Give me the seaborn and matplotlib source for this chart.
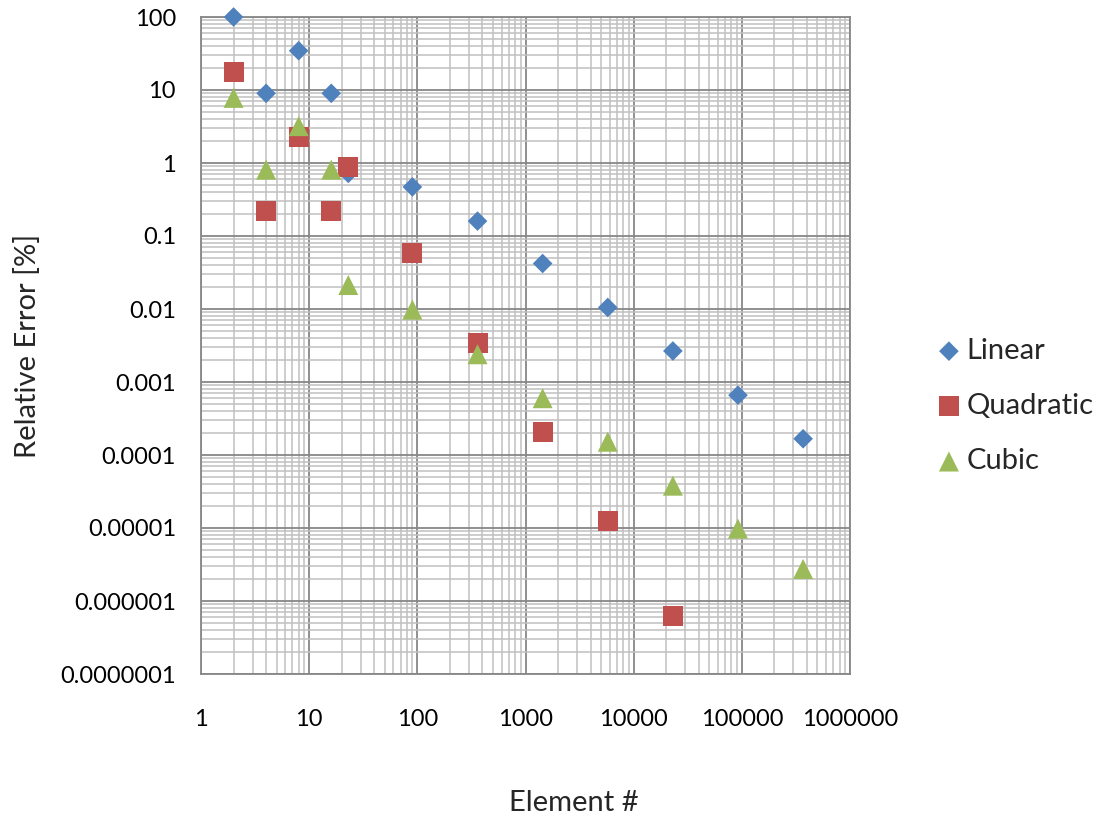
import numpy as np
import pandas as pd
import matplotlib
matplotlib.use("Agg")
import matplotlib.pyplot as plt
import seaborn as sns
from matplotlib.ticker import LogLocator, FixedLocator, FixedFormatter, NullFormatter

# Number of elements for each refinement level
elements = [2, 4, 8, 16, 23, 90, 360, 1440, 5760, 23040, 92160, 368640]

# Relative error [%] per element order
linear_err = [100, 9.0, 34.5, 9.0, 0.72, 0.47, 0.16, 0.042, 0.0105, 0.00266, 0.00066, 0.000167]
quadratic_err = [17.5, 0.218, 2.3, 0.218, 0.89, 0.059, 0.0034, 0.000206, 1.26e-5, 6.2e-7]
cubic_err = [7.8, 0.81, 3.2, 0.81, 0.0213, 0.0098, 0.0024, 0.0006, 0.000152, 3.8e-5, 9.8e-6, 2.75e-6]

x_ticks = [1, 10, 100, 1000, 10000, 100000, 1000000]
x_labels = ["1", "10", "100", "1000", "10000", "100000", "1000000"]
y_ticks = [1e-7, 1e-6, 1e-5, 1e-4, 1e-3, 1e-2, 1e-1, 1, 10, 100]
y_labels = ["0.0000001", "0.000001", "0.00001", "0.0001", "0.001", "0.01", "0.1", "1", "10", "100"]

sns.set_theme(style="white")
plt.rcParams["font.family"] = ["Lato", "DejaVu Sans"]

fig = plt.figure(figsize=(10.99, 8.16), dpi=100)
ax = fig.add_axes([201 / 1099, 1 - 674 / 816, 649 / 1099, 657 / 816])

series = [
    ("Linear", elements[:len(linear_err)], linear_err, "D", 10.0, "#4F81BD"),
    ("Quadratic", elements[:len(quadratic_err)], quadratic_err, "s", 14.4, "#C0504D"),
    ("Cubic", elements[:len(cubic_err)], cubic_err, "^", 14.4, "#9BBB59"),
]

for name, xs, ys, mk, ms, col in series:
    df = pd.DataFrame({"Element #": xs, "Relative Error": ys})
    sns.scatterplot(data=df, x="Element #", y="Relative Error", marker=mk,
                    s=ms ** 2, color=col, edgecolor="none", linewidth=0,
                    label=name, ax=ax, zorder=3, clip_on=False)

ax.set_xscale("log")
ax.set_yscale("log")
ax.set_xlim(1, 1e6)
ax.set_ylim(1e-7, 100)

ax.xaxis.set_major_locator(FixedLocator(x_ticks))
ax.xaxis.set_major_formatter(FixedFormatter(x_labels))
ax.yaxis.set_major_locator(FixedLocator(y_ticks))
ax.yaxis.set_major_formatter(FixedFormatter(y_labels))
ax.xaxis.set_minor_locator(LogLocator(base=10, subs=np.arange(2, 10), numticks=20))
ax.yaxis.set_minor_locator(LogLocator(base=10, subs=np.arange(2, 10), numticks=20))
ax.xaxis.set_minor_formatter(NullFormatter())
ax.yaxis.set_minor_formatter(NullFormatter())

ax.grid(which="major", color="#878787", linewidth=1.3, zorder=1)
ax.grid(which="minor", color="#C0C0C0", linewidth=1.1, zorder=0)
ax.set_axisbelow(True)
ax.tick_params(which="both", length=0)
ax.tick_params(axis="x", labelsize=17, pad=25, colors="#000000")
ax.tick_params(axis="y", labelsize=17, pad=18, colors="#000000")
for sp in ax.spines.values():
    sp.set_color("#878787")
    sp.set_linewidth(1.3)

ax.set_xlabel("Element #", fontsize=21)
ax.xaxis.set_label_coords(0.575, -0.176)
ax.set_ylabel("Relative Error [%]", fontsize=21)
ax.yaxis.set_label_coords(-0.247, 0.5)

ax.legend(loc="center left", bbox_to_anchor=(911 / 1099, 1 - 406 / 816),
          bbox_transform=fig.transFigure, frameon=False, fontsize=21,
          handletextpad=0.2, labelspacing=1.0, handlelength=0.8,
          markerscale=1.0)

fig.savefig("out.png", dpi=100)
